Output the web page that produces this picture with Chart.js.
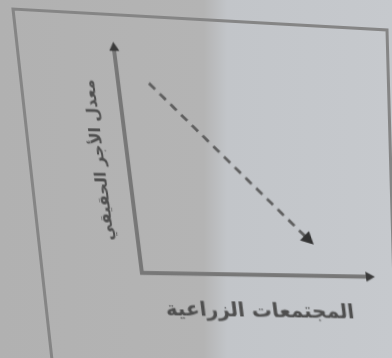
<!DOCTYPE html>
<html>
<head>
<meta charset="utf-8">
<script src="https://cdn.jsdelivr.net/npm/chart.js@4.4.1/dist/chart.umd.min.js"></script>
<style>
  html, body { margin: 0; padding: 0; overflow: hidden; }
  body {
    width: 392px; height: 358px; position: relative;
    background: linear-gradient(90deg, #b1b1b1 0%, #b4b4b4 52%, #c2c5c9 58%, #c6c9cd 100%);
  }
  #frame { position: absolute; left: 0; top: 0; filter: blur(0.7px); }
  #wrap {
    position: absolute; left: 0; top: 0; width: 392px; height: 358px;
    transform-origin: 0 0;
    transform: matrix(1, 0.017, 0.125, 1, 0, 0);
    filter: blur(0.7px);
  }
</style>
</head>
<body>
<svg id="frame" width="392" height="358">
  <polyline points="52,360 13,9 387,30 396,360" fill="none" stroke="#858585" stroke-width="3"/>
</svg>
<div id="wrap"><canvas id="grafico" width="392" height="358"></canvas></div>
<script>
// datos (escala 0-10 en ambos ejes)
const xValores = [1.35, 7.5];
const yValores = [8.45, 1.65];
const tituloX = 'المجتمعات الزراعية';
const tituloY = 'معدل الأجر الحقيقي';

const puntos = xValores.map((x, i) => ({ x: x, y: yValores[i] }));

// flechas al final de los ejes
const flechasEjes = {
    id: 'flechasEjes',
    afterDraw(chart) {
        const { ctx, chartArea } = chart;
        ctx.save();
        ctx.fillStyle = '#3a3a3a';
        // eje y, arriba
        ctx.beginPath();
        ctx.moveTo(chartArea.left, chartArea.top - 6);
        ctx.lineTo(chartArea.left - 5, chartArea.top + 3);
        ctx.lineTo(chartArea.left + 5, chartArea.top + 3);
        ctx.closePath();
        ctx.fill();
        // eje x, derecha
        ctx.beginPath();
        ctx.moveTo(chartArea.right + 6, chartArea.bottom);
        ctx.lineTo(chartArea.right - 3, chartArea.bottom - 5);
        ctx.lineTo(chartArea.right - 3, chartArea.bottom + 5);
        ctx.closePath();
        ctx.fill();
        ctx.restore();
    }
};

const config = {
    type: 'scatter',
    data: {
        datasets: [{
            data: puntos,
            showLine: true,
            borderColor: '#5e5e5e',
            borderWidth: 3,
            borderDash: [8, 6],
            pointRadius: [0, 5],
            pointStyle: 'triangle',
            pointRotation: 137,
            pointBackgroundColor: '#333333',
            pointBorderColor: '#333333'
        }]
    },
    options: {
        responsive: false,
        animation: false,
        layout: { padding: { left: 70, top: 46, right: 57, bottom: 34 } },
        plugins: { legend: { display: false }, tooltip: { enabled: false } },
        scales: {
            x: {
                type: 'linear', min: 0, max: 10,
                grid: { display: false },
                ticks: { display: false },
                border: { color: '#777777', width: 4 },
                title: {
                    display: true, text: tituloX, color: '#4e4e4e',
                    font: { family: 'DejaVu Sans', size: 20, weight: 'bold' },
                    padding: { top: 17, bottom: 4 }
                }
            },
            y: {
                type: 'linear', min: 0, max: 10,
                grid: { display: false },
                ticks: { display: false },
                border: { color: '#777777', width: 4 },
                title: {
                    display: true, text: tituloY, color: '#4e4e4e',
                    font: { family: 'DejaVu Sans', size: 16, weight: 'bold' },
                    padding: { top: 0, bottom: 11 }
                }
            }
        }
    },
    plugins: [flechasEjes]
};

const grafico = new Chart(document.getElementById('grafico'), config);
</script>
</body>
</html>
